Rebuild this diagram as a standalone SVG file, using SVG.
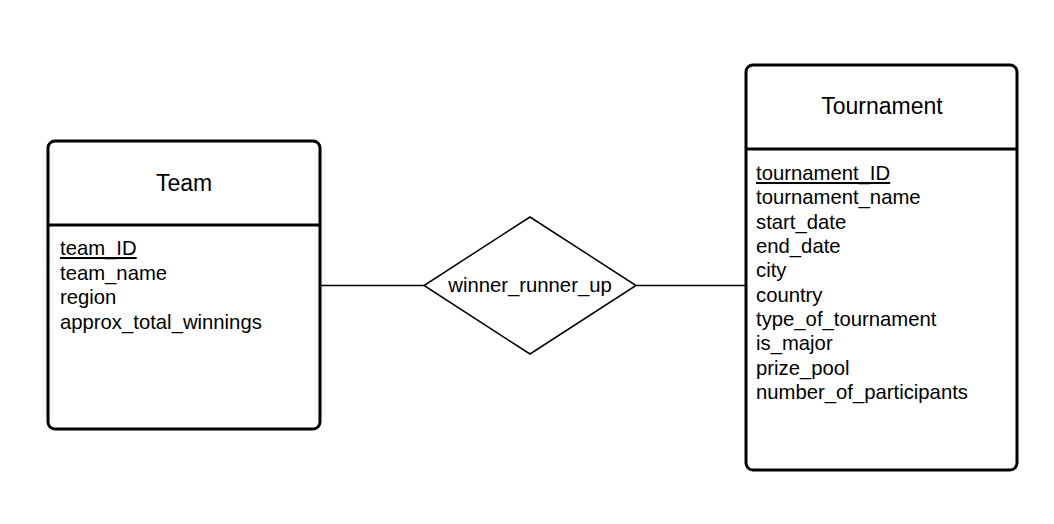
<svg xmlns="http://www.w3.org/2000/svg" width="1054" height="524" viewBox="0 0 1054 524">
<style>
.box{fill:#fff;stroke:#000;stroke-width:3}
.div{stroke:#000;stroke-width:3}
.title{font-family:"Liberation Sans",Arial,sans-serif;font-size:23px;fill:#000;text-anchor:middle}
.attr{font-family:"Liberation Sans",Arial,sans-serif;font-size:20.3px;fill:#000}
.pk{text-decoration:underline}
.conn{stroke:#000;stroke-width:1.5;fill:none}
.rel{fill:#fff;stroke:#000;stroke-width:1.5}
.rlabel{font-family:"Liberation Sans",Arial,sans-serif;font-size:20.3px;fill:#000;text-anchor:middle}
</style>
<rect width="1054" height="524" fill="#fff"/>
<g id="connectors">
<line class="conn" x1="320" y1="285.5" x2="424" y2="285.5"/>
<line class="conn" x1="636" y1="285.5" x2="746" y2="285.5"/>
</g>
<g id="team">
<rect class="box" x="48" y="141" width="272" height="288" rx="7"/>
<line class="div" x1="48" y1="225" x2="320" y2="225"/>
<text class="title" x="184" y="191">Team</text>
<text class="attr pk" x="60" y="255">team_ID</text>
<text class="attr" x="60" y="280">team_name</text>
<text class="attr" x="60" y="304">region</text>
<text class="attr" x="60" y="329">approx_total_winnings</text>
</g>
<g id="winner_runner_up">
<polygon class="rel" points="530,217 636,285.5 530,354 424,285.5"/>
<text class="rlabel" x="530" y="292">winner_runner_up</text>
</g>
<g id="tournament">
<rect class="box" x="746" y="65" width="271" height="405" rx="7"/>
<line class="div" x1="746" y1="149" x2="1017" y2="149"/>
<text class="title" x="882" y="114">Tournament</text>
<text class="attr pk" x="756" y="180">tournament_ID</text>
<text class="attr" x="756" y="204">tournament_name</text>
<text class="attr" x="756" y="229">start_date</text>
<text class="attr" x="756" y="253">end_date</text>
<text class="attr" x="756" y="277">city</text>
<text class="attr" x="756" y="302">country</text>
<text class="attr" x="756" y="326">type_of_tournament</text>
<text class="attr" x="756" y="350">is_major</text>
<text class="attr" x="756" y="375">prize_pool</text>
<text class="attr" x="756" y="399">number_of_participants</text>
</g>
</svg>
